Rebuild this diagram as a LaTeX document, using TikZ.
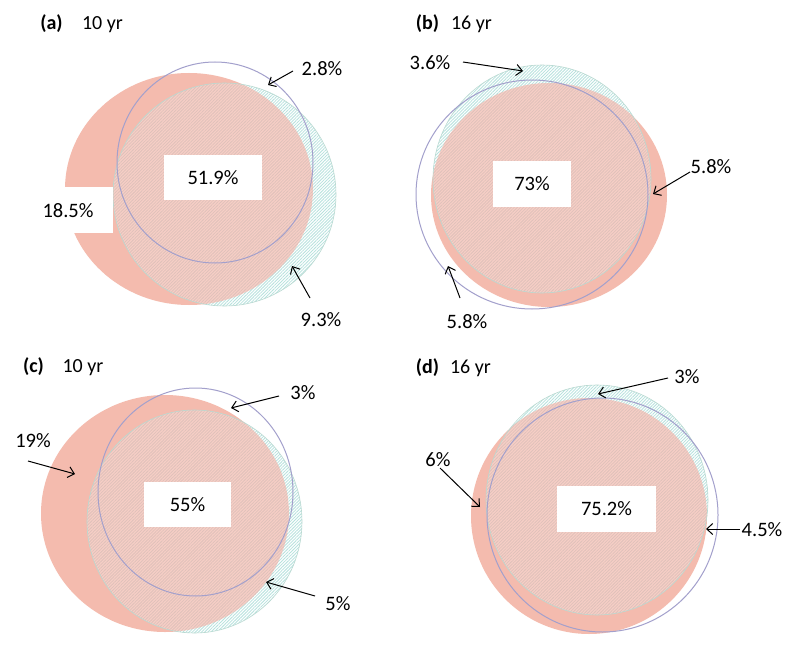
\documentclass[tikz,border=0pt]{standalone}
\usepackage{fontspec}
\setmainfont{Carlito}
\usetikzlibrary{arrows.meta,patterns.meta}
\definecolor{salmon}{HTML}{F4BBAE}
\definecolor{tealh}{HTML}{B6E2DD}
\definecolor{pinkh}{HTML}{DFC1BA}
\definecolor{tealline}{HTML}{B9D9D1}
\definecolor{purp}{HTML}{A3A0CC}
\begin{document}
\begin{tikzpicture}[x=1pt,y=-1pt,
  redc/.style={fill=salmon},
  hatch/.style={pattern={Lines[angle=45,distance=2.2pt,line width=0.8pt]},pattern color=#1},
  lighten/.style={fill=white,fill opacity=0.3},
  tealedge/.style={draw=tealline,line width=0.6pt},
  purc/.style={draw=purp,line width=1pt},
  wbox/.style={fill=white,inner sep=0pt,font=\fontsize{20.5}{24}\selectfont},
  lab/.style={inner sep=0pt,font=\fontsize{20.5}{24}\selectfont},
  ttl/.style={inner sep=0pt,anchor=base,font=\bfseries\fontsize{20}{24}\selectfont},
  yr/.style={inner sep=0pt,anchor=base,font=\fontsize{20}{24}\selectfont},
  arr/.style={-{Straight Barb[length=6pt,width=11pt]},line width=1pt}]
\useasboundingbox[fill=white] (0,0) rectangle (800,647);

% ---------------- (a)
\def\redA{(189,189) ellipse [x radius=124,y radius=116]}
\def\tealA{(224.5,194.5) circle [radius=111.5]}
\fill[redc] \redA;
\fill[lighten] \tealA;
\begin{scope}\clip \tealA; \path[hatch=tealh,even odd rule] \redA (0,0) rectangle (800,647); \end{scope}
\begin{scope}\clip \redA; \path[hatch=pinkh] \tealA; \end{scope}
\draw[tealedge] \tealA;
\draw[purc] (215,162.5) ellipse [x radius=98,y radius=100.5];
\node[wbox,minimum width=73,minimum height=46] (ba) at (76.5,210) {};
\node[wbox,minimum width=98,minimum height=45] (ma) at (213,177.5) {51.9\%};
\node[lab] (la1) at (68,211) {18.5\%};
\node[lab] (la2) at (322,69) {2.8\%};
\node[lab] (la3) at (321,320) {9.3\%};
\node[ttl] (ta) at (51.5,30) {(a)};
\node[yr] (ya) at (102.5,30) {10 yr};
\coordinate (a2s) at (293,71); \coordinate (a2e) at (268,85);
\coordinate (a3s) at (310,298); \coordinate (a3e) at (292,266);
\draw[arr] (a2s) -- (a2e);
\draw[arr] (a3s) -- (a3e);

% ---------------- (b)
\def\redB{(549,195) ellipse [x radius=118,y radius=112]}
\def\tealB{(542,179) ellipse [x radius=109,y radius=114]}
\fill[redc] \redB;
\fill[lighten] \tealB;
\begin{scope}\clip \tealB; \path[hatch=tealh,even odd rule] \redB (0,0) rectangle (800,647); \end{scope}
\begin{scope}\clip \redB; \path[hatch=pinkh] \tealB; \end{scope}
\draw[tealedge] \tealB;
\draw[purc] (532,194.5) ellipse [x radius=116,y radius=114.5];
\node[wbox,minimum width=78,minimum height=46] (mb) at (532,184) {73\%};
\node[lab] (lb1) at (430,63) {3.6\%};
\node[lab] (lb2) at (711,167) {5.8\%};
\node[lab] (lb3) at (467,322) {5.8\%};
\node[ttl] (tb) at (427.5,30) {(b)};
\node[yr] (yb) at (471.5,30) {16 yr};
\coordinate (b1s) at (463,62); \coordinate (b1e) at (523,71);
\coordinate (b2s) at (690,172); \coordinate (b2e) at (653,194);
\coordinate (b3s) at (460,298); \coordinate (b3e) at (448,266);
\draw[arr] (b1s) -- (b1e);
\draw[arr] (b2s) -- (b2e);
\draw[arr] (b3s) -- (b3e);

% ---------------- (c)
\def\redC{(165,513.5) ellipse [x radius=124,y radius=118.5]}
\def\tealC{(194.5,521.5) ellipse [x radius=107.5,y radius=111.5]}
\fill[redc] \redC;
\fill[lighten] \tealC;
\begin{scope}\clip \tealC; \path[hatch=tealh,even odd rule] \redC (0,0) rectangle (800,647); \end{scope}
\begin{scope}\clip \redC; \path[hatch=pinkh] \tealC; \end{scope}
\draw[tealedge] \tealC;
\draw[purc] (195.5,492) ellipse [x radius=97.5,y radius=104];
\node[wbox,minimum width=87,minimum height=45] (mc) at (187.5,504.5) {55\%};
\node[lab] (lc1) at (303,393) {3\%};
\node[lab] (lc2) at (33,441) {19\%};
\node[lab] (lc3) at (338,604) {5\%};
\node[ttl] (tc) at (33.5,372) {(c)};
\node[yr] (yc) at (83,372) {10 yr};
\coordinate (c1s) at (279,396); \coordinate (c1e) at (231,408);
\coordinate (c2s) at (28,461); \coordinate (c2e) at (75,474);
\coordinate (c3s) at (315,596); \coordinate (c3e) at (266,582);
\draw[arr] (c1s) -- (c1e);
\draw[arr] (c2s) -- (c2e);
\draw[arr] (c3s) -- (c3e);

% ---------------- (d)
\def\redD{(589,516) circle [radius=118]}
\def\tealD{(597,500) ellipse [x radius=111,y radius=115]}
\fill[redc] \redD;
\fill[lighten] \tealD;
\begin{scope}\clip \tealD; \path[hatch=tealh,even odd rule] \redD (0,0) rectangle (800,647); \end{scope}
\begin{scope}\clip \redD; \path[hatch=pinkh] \tealD; \end{scope}
\draw[tealedge] \tealD;
\draw[purc] (602.5,515) ellipse [x radius=115.5,y radius=117];
\node[wbox,minimum width=99,minimum height=46] (md) at (606.5,509) {75.2\%};
\node[lab] (ld1) at (687,377) {3\%};
\node[lab] (ld2) at (438,460) {6\%};
\node[lab] (ld3) at (762,530) {4.5\%};
\node[ttl] (td) at (427.5,373) {(d)};
\node[yr] (yd) at (470.5,373) {16 yr};
\coordinate (d1s) at (668,378); \coordinate (d1e) at (598,394);
\coordinate (d2s) at (440,468); \coordinate (d2e) at (480,507);
\coordinate (d3s) at (740,529); \coordinate (d3e) at (706,529);
\draw[arr] (d1s) -- (d1e);
\draw[arr] (d2s) -- (d2e);
\draw[arr] (d3s) -- (d3e);
\end{tikzpicture}
\end{document}
